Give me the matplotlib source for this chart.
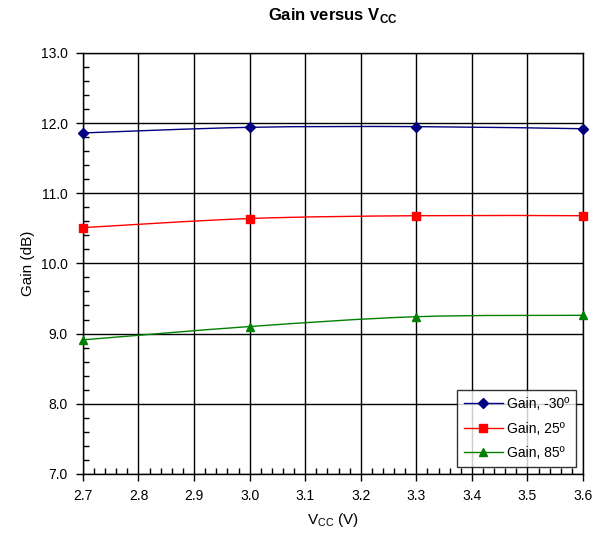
import matplotlib
matplotlib.use("Agg")
import matplotlib.pyplot as plt
from matplotlib.path import Path
from matplotlib.patches import PathPatch
from matplotlib.lines import Line2D
from matplotlib.ticker import MultipleLocator

plt.rcParams["font.family"] = "Liberation Sans"
plt.rcParams["mathtext.fontset"] = "custom"
plt.rcParams["mathtext.rm"] = "Liberation Sans"
plt.rcParams["mathtext.bf"] = "Liberation Sans:bold"

# ── Data ──────────────────────────────────────────────────────────────────────
VCC = [2.7, 3.0, 3.3, 3.6]
GAIN_M30 = [11.86, 11.94, 11.95, 11.92]
GAIN_25 = [10.51, 10.64, 10.68, 10.68]
GAIN_85 = [8.91, 9.10, 9.24, 9.26]

SERIES = [
    ("Gain, -30º", GAIN_M30, "#000080", "D", 5),
    ("Gain, 25º", GAIN_25, "#FF0000", "s", 6),
    ("Gain, 85º", GAIN_85, "#008000", "^", 6),
]


def smooth_path(xs, ys, tension=1 / 6):
    # Catmull-Rom style segments expressed as cubic Bezier path codes
    pts = list(zip(xs, ys))
    verts = [pts[0]]
    codes = [Path.MOVETO]
    n = len(pts)
    for i in range(n - 1):
        p0 = pts[max(i - 1, 0)]
        p1 = pts[i]
        p2 = pts[i + 1]
        p3 = pts[min(i + 2, n - 1)]
        c1 = (p1[0] + (p2[0] - p0[0]) * tension, p1[1] + (p2[1] - p0[1]) * tension)
        c2 = (p2[0] - (p3[0] - p1[0]) * tension, p2[1] - (p3[1] - p1[1]) * tension)
        verts += [c1, c2, p2]
        codes += [Path.CURVE4] * 3
    return Path(verts, codes)


fig = plt.figure(figsize=(6.01, 5.33), dpi=100)
ax = fig.add_axes([0.138, 0.111, 0.832, 0.7896])

ax.set_xlim(2.7, 3.6)
ax.set_ylim(7.0, 13.0)
ax.xaxis.set_major_locator(MultipleLocator(0.1))
ax.xaxis.set_minor_locator(MultipleLocator(0.02))
ax.yaxis.set_major_locator(MultipleLocator(1.0))
ax.yaxis.set_minor_locator(MultipleLocator(0.2))
ax.xaxis.set_major_formatter(lambda v, p: f"{v:.1f}")
ax.yaxis.set_major_formatter(lambda v, p: f"{v:.1f}")

ax.grid(True, which="major", color="black", lw=1.0)
ax.set_axisbelow(True)
ax.tick_params(which="major", direction="out", length=5, width=1, labelsize=10,
               colors="black", pad=6)
ax.tick_params(which="minor", direction="in", length=4, width=1)
for s in ax.spines.values():
    s.set_linewidth(1.0)

handles = []
for label, ys, color, marker, ms in SERIES:
    ax.add_patch(PathPatch(smooth_path(VCC, ys), facecolor="none",
                           edgecolor=color, lw=1.0, zorder=3))
    ax.plot(VCC, ys, ls="none", marker=marker, ms=ms, color=color,
            clip_on=False, zorder=4)
    handles.append(Line2D([], [], color=color, lw=1.0, marker=marker, ms=ms,
                          label=label))

leg = ax.legend(handles=handles, loc="lower right", fontsize=10,
                frameon=True, fancybox=False, edgecolor="black",
                borderaxespad=0.5, handlelength=2.8, labelspacing=0.75,
                handletextpad=0.3, borderpad=0.5)
leg.get_frame().set_linewidth(1.0)

ax.set_title(r"Gain versus V$_{\mathbf{CC}}$", fontsize=12, fontweight="bold", pad=24)
ax.set_xlabel(r"V$_{\mathrm{CC}}$ (V)", fontsize=11, labelpad=6)
ax.set_ylabel("Gain (dB)", fontsize=11, labelpad=4)

fig.savefig("out.png", dpi=100, facecolor="white")
